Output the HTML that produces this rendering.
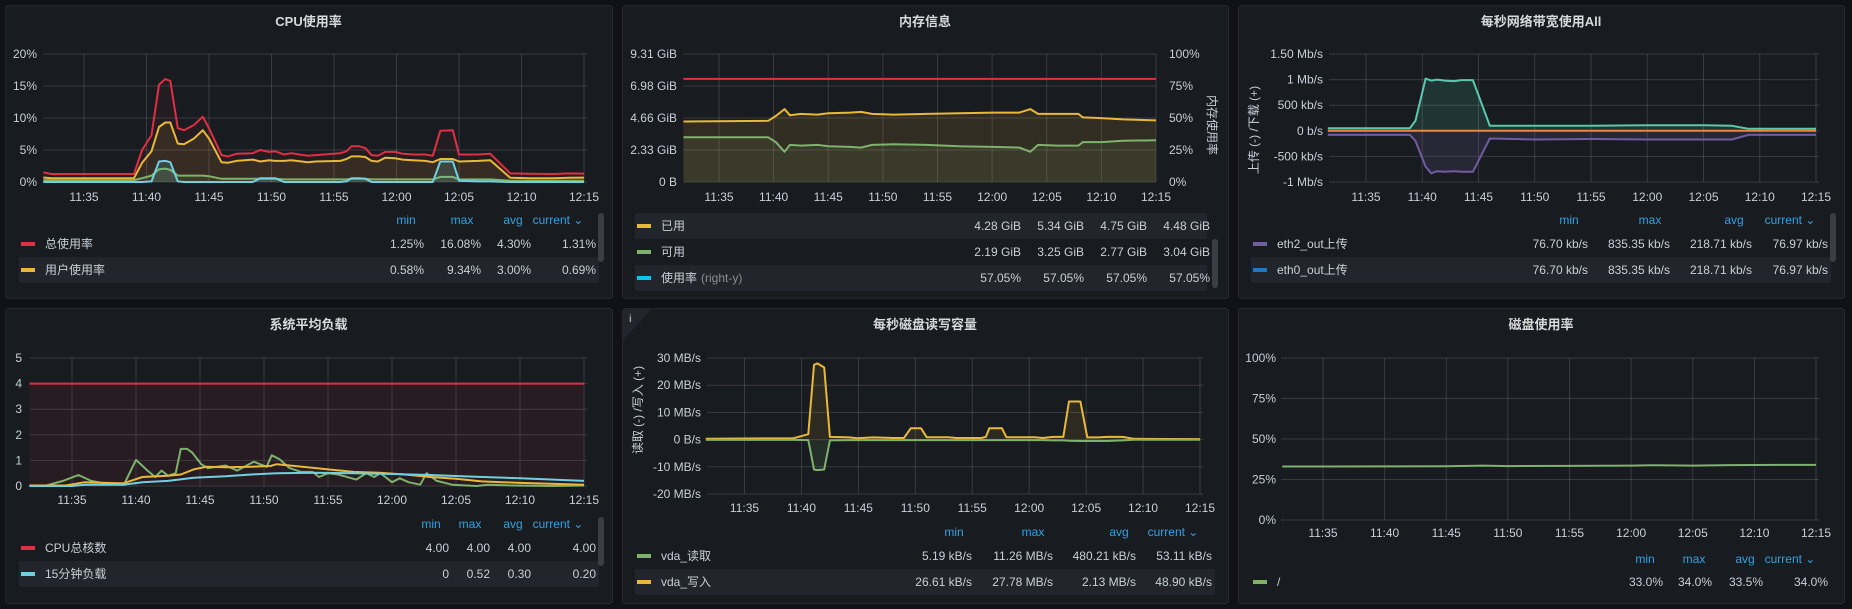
<!DOCTYPE html>
<html><head><meta charset="utf-8">
<style>
html,body{margin:0;padding:0;background:#111217;width:1852px;height:609px;overflow:hidden}
svg{display:block;font-family:"Liberation Sans","Noto Sans CJK SC",sans-serif}
</style></head>
<body>
<svg id="dash" width="1852" height="609" viewBox="0 0 1852 609" xmlns="http://www.w3.org/2000/svg"></svg>
<script>
// ---- CPU panel data (t = minutes after 11:30) ----
const cpuTimes = [1.74,2.4,9,9.65,10.4,11,11.5,11.9,12.5,13,13.8,14.5,15,16,16.5,17.2,18.5,19.1,19.8,20.3,21,21.6,22.9,23.5,25.5,26,26.4,27,27.5,28,28.5,29.1,29.9,30.5,31.3,32.3,32.9,33.5,34.5,35,36.5,37.5,39.1,40.7,42.6,43.8,45];
const cpuTotal = [1.5,1.25,1.25,5,7.3,15.2,16.1,15.8,8.4,8.1,8.9,10.2,8.4,4.2,4.0,4.4,4.5,5.0,4.7,4.8,4.3,4.5,4.1,4.2,4.5,4.8,5.6,5.6,5.3,4.2,4.1,4.7,4.7,4.4,4.3,4.3,4.1,8.0,8.1,4.3,4.3,4.4,1.35,1.3,1.25,1.35,1.31];
const cpuUser = [0.7,0.6,0.6,3.0,4.8,8.6,9.3,9.3,6.0,5.9,6.8,8.1,6.8,3.1,3.0,3.3,3.5,3.2,3.4,3.3,3.3,3.4,3.1,3.2,3.3,3.6,4.0,4.0,3.9,3.3,3.2,3.8,3.7,3.5,3.4,3.3,3.1,3.6,3.6,3.2,3.3,3.4,0.65,0.6,0.6,0.65,0.69];
const cpuSys = [0.3,0.3,0.3,0.6,1.0,2.0,2.1,1.9,1.0,1.0,1.0,1.0,0.9,0.5,0.5,0.5,0.5,0.5,0.5,0.5,0.4,0.4,0.4,0.4,0.4,0.4,0.5,0.5,0.5,0.4,0.4,0.4,0.4,0.4,0.4,0.4,0.4,0.8,0.8,0.4,0.4,0.4,0.2,0.2,0.2,0.2,0.2];
const cpuIowait = [0,0,0,0,0.1,3.2,3.3,3.1,0.1,0,0,0,0,0,0,0,0,0.6,0.6,0.6,0,0,0,0,0,0.1,0.6,0.6,0.5,0,0,0,0,0,0,0,0,3.2,3.2,0.2,0.1,0.1,0,0,0,0,0];
const cpuYTicks = [0,5,10,15,20];
const cpuYLabels = ["0%","5%","10%","15%","20%"];
// ---- Memory panel data (GiB) ----
const memTimes = [1.74,9.5,10.2,11,11.5,12.5,14,15,17,18,19,21,24,27,30,32.5,33.5,34.2,36,37.9,38.3,40,42,45];
const memTotal = [7.5,7.5,7.5,7.5,7.5,7.5,7.5,7.5,7.5,7.5,7.5,7.5,7.5,7.5,7.5,7.5,7.5,7.5,7.5,7.5,7.5,7.5,7.5,7.5];
const memUsed = [4.4,4.45,4.8,5.3,4.85,4.95,4.9,5.0,5.05,5.1,4.95,4.9,4.95,5.0,5.05,5.05,5.3,4.95,4.95,4.95,4.7,4.65,4.55,4.48];
const memAvail = [3.25,3.25,2.9,2.2,2.7,2.65,2.7,2.6,2.55,2.5,2.7,2.75,2.7,2.6,2.55,2.5,2.2,2.7,2.65,2.65,2.9,2.9,3.0,3.04];
const memYTicks = [0,2.3275,4.655,6.9825,9.31];
const memYLabels = ["0 B","2.33 GiB","4.66 GiB","6.98 GiB","9.31 GiB"];
const memRightLabels = ["0%","25%","50%","75%","100%"];
// ---- Network panel data (Mb/s) ----
const netTimes = [1.6,8.9,9.4,10.3,10.8,11.3,12,12.8,13.5,14.5,16,20,25,30,35,37.5,39,45];
const netIn = [0.05,0.05,0.2,1.02,0.98,1.0,0.98,0.97,0.99,0.99,0.1,0.1,0.1,0.11,0.11,0.1,0.04,0.04];
const netOut = [-0.08,-0.08,-0.2,-0.7,-0.83,-0.79,-0.8,-0.79,-0.8,-0.8,-0.15,-0.17,-0.16,-0.17,-0.17,-0.17,-0.08,-0.08];
const netFlat = [0.0,0.0,0.0,0.0,0.0,0.0,0.0,0.0,0.0,0.0,0.0,0.0,0.0,0.0,0.0,0.0,0.0,0.0];
const netYTicks = [-1,-0.5,0,0.5,1,1.5];
const netYLabels = ["-1 Mb/s","-500 kb/s","0 b/s","500 kb/s","1 Mb/s","1.50 Mb/s"];
// ---- Load panel data ----
const loadTimes1 = [1.67,3.0,4.3,5.5,6.5,7.5,9.1,10.0,10.9,11.5,12,12.5,13.1,13.5,14,14.4,15.1,15.6,17,17.9,19.2,20.2,20.6,21.2,22,22.9,23.8,24.3,25,25.8,27.2,28,28.6,29.1,30,30.6,31.3,32.2,32.7,33.5,34.7,36.6,37.5,39.4,42.5,45];
const load1 = [0.02,0.02,0.2,0.43,0.2,0.1,0.1,1.02,0.6,0.35,0.6,0.4,0.5,1.45,1.45,1.3,0.85,0.7,0.8,0.6,0.95,0.75,1.2,1.05,0.7,0.55,0.55,0.35,0.5,0.45,0.25,0.5,0.35,0.5,0.15,0.3,0.15,0.05,0.5,0.2,0.05,0.0,0.05,0.02,0.0,0.02];
const loadTimes5 = [1.67,4.5,6,9,10.5,12.5,13.5,14.5,15.5,17,19,20.5,21,23,25,27,29,31,33,35,37,40,45];
const load5 = [0.02,0.02,0.15,0.1,0.35,0.4,0.45,0.65,0.75,0.73,0.75,0.78,0.85,0.75,0.65,0.55,0.52,0.45,0.35,0.28,0.18,0.12,0.05];
const loadTimes15 = [1.67,5,6,9,10.5,12.5,14.5,17,19,21,24,27,30,33,36,40,45];
const load15 = [0,0,0.05,0.05,0.15,0.2,0.32,0.38,0.45,0.5,0.52,0.5,0.47,0.43,0.37,0.3,0.2];
const loadCores = 4;
const loadYTicks = [0,1,2,3,4,5];
// ---- Disk IO panel data (MB/s) ----
const ioTimes = [1.6,9.3,10.6,11.1,11.4,12,12.5,14.2,14.9,16.3,18,19,19.6,20.5,21,22.9,23.6,25.8,26.2,26.5,27.6,28,30.5,31.2,32.1,33,33.5,34.5,35.1,36.1,36.8,38.2,39.2,45];
const ioWrite = [0.3,0.5,2,27.5,28,26.5,1.0,0.8,0.5,0.8,0.6,0.6,4.2,4.2,0.9,0.9,0.6,0.6,1,4.2,4.2,0.9,0.9,0.6,1.0,1.0,14,14,0.8,0.8,1.0,1.0,0.3,0.2];
const ioRead = [-0.1,-0.1,-0.2,-11,-11.2,-11,-0.3,-0.2,-0.2,-0.2,-0.2,-0.2,-0.2,-0.2,-0.2,-0.2,-0.2,-0.2,-0.2,-0.2,-0.2,-0.2,-0.2,-0.2,-0.3,-0.3,-0.4,-0.5,-0.5,-0.5,-0.5,-0.3,-0.05,-0.05];
const ioYTicks = [-20,-10,0,10,20,30];
const ioYLabels = ["-20 MB/s","-10 MB/s","0 B/s","10 MB/s","20 MB/s","30 MB/s"];
// ---- Disk usage data (%) ----
const diskTimes = [1.7,5,10,15,18,20,25,30,32,35,38,42,45];
const diskUsed = [33.0,33.0,33.1,33.2,33.6,33.3,33.4,33.6,33.8,33.6,33.9,34.0,34.0];
const diskYTicks = [0,25,50,75,100];
const diskYLabels = ["0%","25%","50%","75%","100%"];
const xTickTimes = [5,10,15,20,25,30,35,40,45];
const xTickLabels = ["11:35","11:40","11:45","11:50","11:55","12:00","12:05","12:10","12:15"];

const NS = "http://www.w3.org/2000/svg";
const root = document.getElementById('dash');
function mk(tag, attrs, parent, txt){
  const e = document.createElementNS(NS, tag);
  for (const k in attrs) e.setAttribute(k, attrs[k]);
  if (txt !== undefined) e.textContent = txt;
  (parent || root).appendChild(e);
  return e;
}
const TXT = "#c7d0d9", GRID = "rgba(204,204,220,0.18)", BLUE = "#33a2e5";

function panel(x,y,w,h,title,name){
  const g = mk('g',{});
  
  
  const r = mk('rect',{x:x+0.5,y:y+0.5,width:w,height:h,rx:3,fill:"#181b1f",stroke:"#25272d"},g);
  
  
  const t = mk('text',{x:x+w/2,y:y+21,'text-anchor':'middle',fill:"#d8d9da",'font-size':13,'font-weight':'bold'},g,title);
  
  
  return g;
}
function axes(p){
  p.X = t => p.x35 + (t-5)*(p.x15-p.x35)/40;
  p.Y = v => p.bottom - (v-p.vmin)/(p.vmax-p.vmin)*(p.bottom-p.top);
}
function grid(g,p,yt,yl,labelX,anchor){
  yt.forEach((v,i)=>{
    const y = p.Y(v);
    const l = mk('line',{x1:p.left,x2:p.right,y1:y,y2:y,stroke:GRID,'stroke-width':1},g);
    
    
    const t = mk('text',{x:labelX,y:y+4,'text-anchor':anchor||'end',fill:TXT,'font-size':12},g,yl[i]);
    
    
  });
  xTickTimes.forEach((tt,i)=>{
    const x = p.X(tt);
    const l = mk('line',{x1:x,x2:x,y1:p.top,y2:p.bottom,stroke:GRID,'stroke-width':1},g);
    
    
    const t = mk('text',{x:x,y:p.xlab,'text-anchor':'middle',fill:TXT,'font-size':12},g,xTickLabels[i]);
    
    
  });
}
function series(g,p,ts,vs,color,fillAlpha,name,base){
  const pts = ts.map((t,i)=>p.X(t).toFixed(1)+','+p.Y(vs[i]).toFixed(1));
  if (fillAlpha){
    const b = p.Y(base===undefined?0:base);
    const a = mk('polygon',{points:p.X(ts[0])+','+b+' '+pts.join(' ')+' '+p.X(ts[ts.length-1])+','+b,fill:color,'fill-opacity':fillAlpha},g);
    
    
  }
  const l = mk('polyline',{points:pts.join(' '),fill:'none',stroke:color,'stroke-width':2,'stroke-linejoin':'round'},g);
  
  
}
function header(g,cols,y){
  ["min","max","avg","current ⌄"].forEach((h,i)=>{
    const t = mk('text',{x:cols[i],y:y+4,'text-anchor':'middle',fill:BLUE,'font-size':12},g,h);
    
    
  });
}
function legendRow(g,x0,x1,y,color,label,vals,cols,band,extra){
  if (band){
    const b = mk('rect',{x:x0,y:y-13,width:x1-x0,height:26,fill:"#22252b"},g);
    
    
  }
  const m = mk('rect',{x:x0+2,y:y-2,width:14,height:4,fill:color},g);
  
  
  const t = mk('text',{x:x0+26,y:y+4,fill:TXT,'font-size':12},g,label);
  
  
  if (extra){ mk('tspan',{fill:'#8e8e8e','dx':4},t,extra); }
  vals.forEach((v,i)=>{
    const vt = mk('text',{x:cols[i],y:y+4,'text-anchor':'end',fill:TXT,'font-size':12},g,v);
    
    
  });
}
function scrollbar(g,x,y1,y2){
  const s = mk('rect',{x:x,y:y1,width:6,height:y2-y1,rx:3,fill:"#3b3e45"},g);
  
  
}
function rotLabel(g,x,y,txt,name,deg){
  const t = mk('text',{x:x,y:y,'text-anchor':'middle',fill:TXT,'font-size':12,transform:`rotate(${deg||-90} ${x} ${y})`},g,txt);
  
  
}

// CPU
{
  const g = panel(5,5,607,293,"CPU使用率","cpu-panel");
  const p = {left:43,right:587,x35:84,x15:584,top:54,bottom:182,vmin:0,vmax:20,xlab:201}; axes(p);
  grid(g,p,cpuYTicks,cpuYLabels,37);
  series(g,p,cpuTimes,cpuTotal,"#e02f44",0.06,"cpu-total");
  series(g,p,cpuTimes,cpuUser,"#eab839",0.1,"cpu-user");
  series(g,p,cpuTimes,cpuSys,"#7eb26d",0.1,"cpu-system");
  series(g,p,cpuTimes,cpuIowait,"#6ed0e0",0.15,"cpu-iowait");
  header(g,[406,462,513,558],220);
  legendRow(g,19,599,244,"#e02f44","总使用率",["1.25%","16.08%","4.30%","1.31%"],[424,481,531,596],false);
  legendRow(g,19,599,270,"#eab839","用户使用率",["0.58%","9.34%","3.00%","0.69%"],[424,481,531,596],true);
  scrollbar(g,598,213,262);
}
// Memory
{
  const g = panel(622,5,606,293,"内存信息","memory-panel");
  const p = {left:683,right:1156,x35:719,x15:1156,top:54,bottom:182,vmin:0,vmax:9.31,xlab:201}; axes(p);
  grid(g,p,memYTicks,memYLabels,677);
  memRightLabels.forEach((l,i)=>{
    const t = mk('text',{x:1169,y:p.Y(memYTicks[i])+4,fill:TXT,'font-size':12},g,l);
    
    
  });
  rotLabel(g,1208,125,"内存使用率","right-y-axis-title",90);
  series(g,p,memTimes,memUsed,"#eab839",0.12,"mem-used");
  series(g,p,memTimes,memAvail,"#7eb26d",0.1,"mem-available");
  series(g,p,memTimes,memTotal,"#e02f44",0,"mem-total");
  legendRow(g,635,1207,226,"#eab839","已用",["4.28 GiB","5.34 GiB","4.75 GiB","4.48 GiB"],[1021,1084,1147,1210],true);
  legendRow(g,635,1207,252,"#7eb26d","可用",["2.19 GiB","3.25 GiB","2.77 GiB","3.04 GiB"],[1021,1084,1147,1210],false);
  legendRow(g,635,1207,278,"#0ac5f0","使用率",["57.05%","57.05%","57.05%","57.05%"],[1021,1084,1147,1210],true,"(right-y)");
  scrollbar(g,1212,239,288);
}
// Network
{
  const g = panel(1238,5,606,293,"每秒网络带宽使用All","network-panel");
  const p = {left:1329,right:1819,x35:1366,x15:1816,top:54,bottom:182,vmin:-1,vmax:1.5,xlab:201}; axes(p);
  grid(g,p,netYTicks,netYLabels,1323);
  rotLabel(g,1258,130,"上传  (-)  /下载  (+)","y-axis-title");
  series(g,p,netTimes,netIn,"#5ac8b0",0.15,"net-in");
  series(g,p,netTimes,netOut,"#705da0",0.18,"net-out");
  series(g,p,netTimes,netFlat,"#ef843c",0,"net-other");
  header(g,[1569,1650,1734,1790],220);
  legendRow(g,1251,1831,244,"#705da0","eth2_out上传",["76.70 kb/s","835.35 kb/s","218.71 kb/s","76.97 kb/s"],[1588,1670,1752,1828],false);
  legendRow(g,1251,1831,270,"#1f78c1","eth0_out上传",["76.70 kb/s","835.35 kb/s","218.71 kb/s","76.97 kb/s"],[1588,1670,1752,1828],true);
  scrollbar(g,1830,213,262);
}
// Load
{
  const g = panel(5,308,607,295,"系统平均负载","load-panel");
  const p = {left:30,right:587,x35:72,x15:584,top:358,bottom:486,vmin:0,vmax:5,xlab:504}; axes(p);
  grid(g,p,loadYTicks,loadYTicks.map(String),22);
  const ft = [1.67,45];
  series(g,p,ft,ft.map(()=>loadCores),"#e02f44",0.07,"load-cpu-cores");
  series(g,p,loadTimes1,load1,"#7eb26d",0,"load-1m");
  series(g,p,loadTimes5,load5,"#eab839",0,"load-5m");
  series(g,p,loadTimes15,load15,"#6ed0e0",0,"load-15m");
  header(g,[431,470,513,558],524);
  legendRow(g,19,599,548,"#e02f44","CPU总核数",["4.00","4.00","4.00","4.00"],[449,490,531,596],false);
  legendRow(g,19,599,574,"#6ed0e0","15分钟负载",["0","0.52","0.30","0.20"],[449,490,531,596],true);
  scrollbar(g,598,517,566);
}
// Disk IO
{
  const g = panel(622,308,606,295,"每秒磁盘读写容量","disk-io-panel");
  const c = mk('path',{d:"M623,309 L652,309 L623,340 Z",fill:"#22252b"},g);
  
  
  const ci = mk('text',{x:629,y:322,fill:"#9fa7b3",'font-size':10,'font-weight':'bold'},g,"i");
  
  
  const p = {left:707,right:1203,x35:744.5,x15:1200,top:358,bottom:494,vmin:-20,vmax:30,xlab:512}; axes(p);
  grid(g,p,ioYTicks,ioYLabels,701);
  rotLabel(g,642,410,"读取  (-)  /写入  (+)","y-axis-title");
  series(g,p,ioTimes,ioWrite,"#eab839",0.1,"disk-write");
  series(g,p,ioTimes,ioRead,"#7eb26d",0.12,"disk-read");
  header(g,[954,1033,1119,1173],532);
  legendRow(g,635,1215,556,"#7eb26d","vda_读取",["5.19 kB/s","11.26 MB/s","480.21 kB/s","53.11 kB/s"],[972,1053,1136,1212],false);
  legendRow(g,635,1215,582,"#eab839","vda_写入",["26.61 kB/s","27.78 MB/s","2.13 MB/s","48.90 kB/s"],[972,1053,1136,1212],true);
}
// Disk usage
{
  const g = panel(1238,308,606,295,"磁盘使用率","disk-usage-panel");
  const p = {left:1281,right:1819,x35:1323,x15:1816,top:358,bottom:520,vmin:0,vmax:100,xlab:537}; axes(p);
  grid(g,p,diskYTicks,diskYLabels,1276);
  series(g,p,diskTimes,diskUsed,"#7eb26d",0,"disk-used");
  header(g,[1645,1694,1745,1790],559);
  legendRow(g,1251,1831,582,"#7eb26d","/",["33.0%","34.0%","33.5%","34.0%"],[1663,1712,1763,1828],false);
}
</script>
</body></html>
